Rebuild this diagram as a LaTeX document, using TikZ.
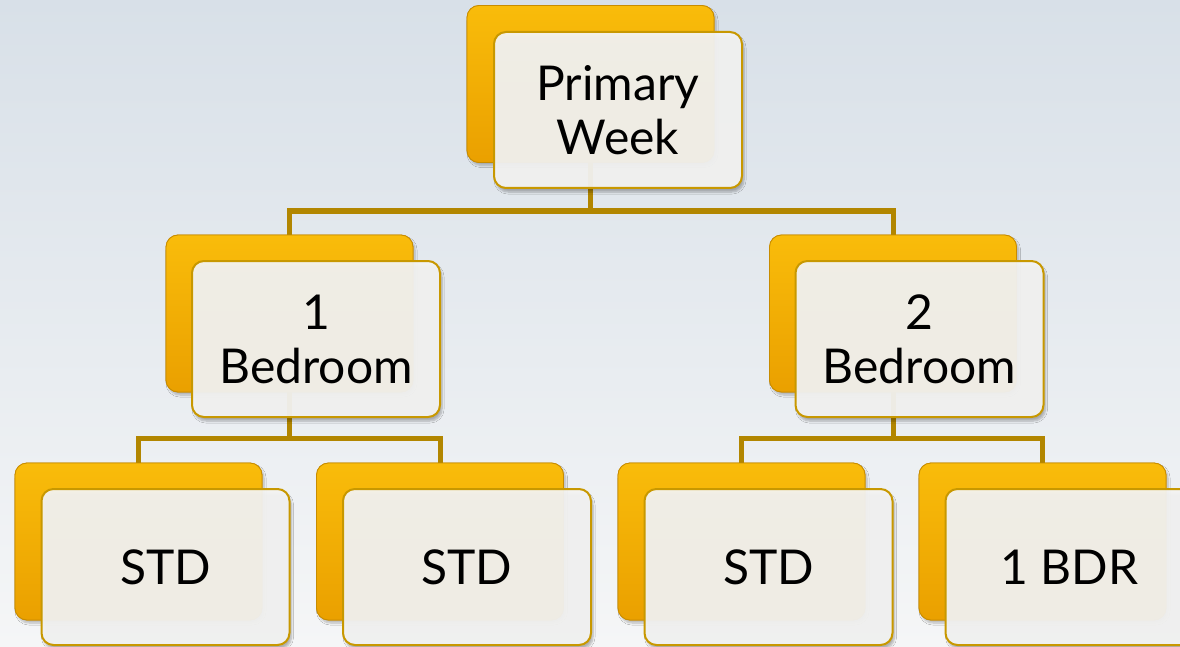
\documentclass[tikz,border=0pt]{standalone}
\usepackage{fontspec}
\setmainfont{Lato}
\usetikzlibrary{shadows.blur}
\definecolor{goldA}{RGB}{249,188,10}
\definecolor{goldB}{RGB}{234,160,0}
\definecolor{goldEdge}{RGB}{200,140,0}
\definecolor{cardEdge}{RGB}{200,152,0}
\definecolor{lineGold}{RGB}{178,134,0}
\definecolor{cardFill}{RGB}{244,244,243}
\definecolor{bgTop}{RGB}{216,224,232}
\definecolor{bgBot}{RGB}{245,246,247}
\tikzset{
  backbox/.style={draw=goldEdge, line width=0.8pt, rounded corners=12pt,
    top color=goldA, bottom color=goldB, minimum width=247pt, minimum height=157pt,
    inner sep=0pt, outer sep=0pt,
    blur shadow={shadow xshift=2pt, shadow yshift=-3pt, shadow blur steps=6, shadow opacity=25}},
  backplain/.style={draw=goldEdge, line width=0.8pt, rounded corners=12pt,
    top color=goldA, bottom color=goldB, minimum width=247pt, minimum height=157pt,
    inner sep=0pt, outer sep=0pt},
  frontbox/.style={draw=cardEdge, line width=2pt, rounded corners=12pt,
    fill=cardFill, fill opacity=0.94, text opacity=1,
    minimum width=248pt, minimum height=156pt, inner sep=0pt, outer sep=0pt,
    align=center, font=\fontsize{48}{54}\selectfont,
    blur shadow={shadow xshift=2pt, shadow yshift=-4pt, shadow blur steps=6, shadow opacity=30}},
  conn/.style={draw=lineGold, line width=5pt}
}
\begin{document}
\begin{tikzpicture}[x=1pt,y=-1pt]
\shade[top color=bgTop, bottom color=bgBot] (0,0) rectangle (1180,647);
\useasboundingbox (0,0) rectangle (1180,647);
% back boxes
\node[backbox] (b0) at (590.5,84) {};
\node[backbox] (b1) at (289.5,313.5) {};
\node[backbox] (b2) at (893,313.5) {};
\node[backbox] (b11) at (138.5,541.5) {};
\node[backbox] (b12) at (440,541.5) {};
\node[backbox] (b21) at (741.5,541.5) {};
\node[backbox] (b22) at (1042.5,541.5) {};
% connectors
\coordinate (j0) at (590.5,211);
\coordinate (j1) at (289.5,438);
\coordinate (j2) at (893,438);
\draw[conn] (b0.south) -- (j0);
\draw[conn] (b1.north) |- (j0) -| (b2.north);
\draw[conn] (b1.south) -- (j1);
\draw[conn] (b11.north) |- (j1) -| (b12.north);
\draw[conn] (b2.south) -- (j2);
\draw[conn] (b21.north) |- (j2) -| (b22.north);
% back boxes again, over the connector ends
\node[backplain] at (b0) {};
\node[backplain] at (b1) {};
\node[backplain] at (b2) {};
\node[backplain] at (b11) {};
\node[backplain] at (b12) {};
\node[backplain] at (b21) {};
\node[backplain] at (b22) {};
% front boxes
\node[frontbox] (f0) at (618,110) {Primary\\Week};
\node[frontbox] (f1) at (316,339) {1\\Bedroom};
\node[frontbox] (f2) at (919.5,339) {2\\Bedroom};
\node[frontbox] (f11) at (165.5,567) {STD};
\node[frontbox] (f12) at (467,567) {STD};
\node[frontbox] (f21) at (768.5,567) {STD};
\node[frontbox] (f22) at (1069.5,567) {1 BDR};
\end{tikzpicture}
\end{document}
